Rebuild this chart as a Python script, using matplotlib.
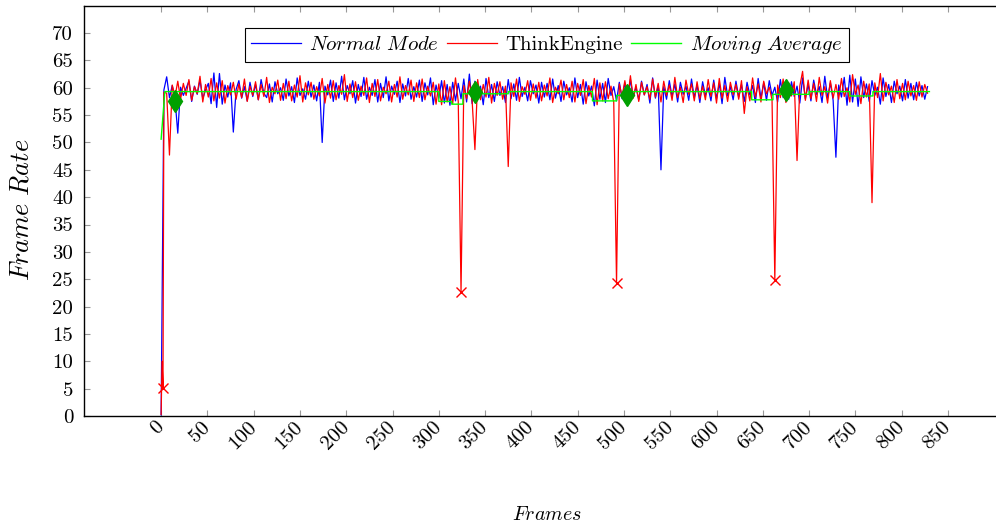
import numpy as np
import matplotlib
matplotlib.use("Agg")
import matplotlib.pyplot as plt

plt.rcParams["font.family"] = "serif"
plt.rcParams["font.serif"] = ["cmr10", "DejaVu Serif"]
plt.rcParams["mathtext.fontset"] = "cm"
plt.rcParams["axes.formatter.use_mathtext"] = True

# --- data --------------------------------------------------------------
# start-up frames (before the regular sampling every 3 frames)
normal_start_frames = [0, 3]
normal_start = [0.2, 59.6]
think_start_frames = [0, 1, 2, 3]
think_start = [0.3, 10.0, 5.1, 59.2]

# frame rate sampled every 3rd frame, starting at frame 6
first_frame = 6
frame_step = 3

normal_mode = [
    62.0, 58.2, 60.4, 57.9, 51.7, 60.1, 58.6, 59.9, 61.2, 57.5, 60.3, 58.8, 61.4, 58.0, 59.6,
    60.8, 57.1, 62.7, 56.4, 62.6, 57.0, 60.5, 58.3, 60.9, 51.9, 59.7, 61.3, 58.1, 60.2, 57.6,
    61.0, 58.4, 60.6, 57.8, 61.5, 59.0, 58.2, 60.7, 57.4, 61.1, 58.9, 60.0, 57.7, 61.6, 58.5,
    60.2, 57.3, 61.8, 58.6, 59.8, 57.9, 61.2, 58.3, 60.5, 57.6, 61.0, 50.0, 60.3, 58.7, 61.4,
    57.5, 60.9, 58.1, 62.1, 57.8, 60.4, 58.9, 61.3, 57.2, 60.6, 58.4, 61.9, 57.9, 60.1, 58.6,
    61.5, 57.4, 60.8, 58.2, 62.0, 57.6, 60.3, 58.8, 61.2, 57.3, 60.7, 58.5, 61.7, 57.9, 60.2,
    58.3, 61.4, 57.5, 60.9, 58.7, 61.8, 56.9, 60.5, 58.1, 61.3, 57.2, 60.6, 56.8, 61.0, 57.6,
    60.8, 58.0, 61.6, 57.4, 62.5, 57.1, 61.2, 58.5, 60.3, 56.9, 61.7, 58.2, 60.6, 57.5, 61.1,
    58.6, 60.2, 57.3, 61.5, 58.0, 60.7, 57.7, 61.9, 58.4, 60.1, 57.6, 61.3, 58.9, 60.5, 57.2,
    61.0, 58.3, 60.8, 57.8, 61.6, 58.1, 60.4, 57.5, 61.2, 58.7, 60.0, 57.4, 61.8, 58.2, 60.6,
    57.0, 61.1, 58.5, 60.3, 56.7, 61.4, 57.9, 60.8, 57.3, 61.7, 58.6, 60.2, 57.6, 61.0, 58.0,
    60.9, 57.5, 61.5, 58.3, 60.1, 57.8, 61.2, 58.7, 60.6, 57.2, 61.8, 58.1, 60.4, 45.0, 60.2,
    57.9, 61.3, 58.4, 60.7, 57.4, 61.0, 58.8, 60.3, 57.7, 61.6, 58.2, 60.5, 57.3, 61.1, 58.6,
    60.0, 57.6, 61.4, 58.0, 60.8, 57.1, 61.9, 58.5, 60.2, 57.8, 61.2, 58.3, 60.6, 57.5, 61.0,
    58.7, 60.4, 57.3, 61.7, 58.1, 60.9, 57.7, 61.3, 58.6, 60.1, 57.4, 61.5, 58.2, 60.7, 57.9,
    61.1, 58.4, 60.3, 57.2, 61.8, 58.0, 60.6, 57.6, 61.4, 58.8, 60.2, 57.3, 62.1, 58.1, 60.9,
    57.7, 47.3, 60.5, 58.3, 61.9, 56.8, 62.3, 57.4, 61.6, 56.6, 62.0, 58.2, 60.7, 57.5, 61.3,
    58.6, 60.1, 57.0, 61.8, 58.4, 60.6, 57.3, 61.2, 58.9, 60.3, 57.6, 61.5, 58.1, 60.8, 57.8,
    61.0, 58.5, 60.4, 57.9, 60.2,
]

think_engine = [
    59.0, 47.7, 60.5, 58.4, 61.2, 57.9, 60.8, 58.6, 61.5, 57.7, 60.2, 58.9, 62.1, 57.4, 60.6,
    58.3, 61.7, 57.6, 60.9, 58.1, 61.3, 57.2, 60.4, 58.7, 61.0, 57.9, 60.7, 58.2, 61.6, 57.5,
    60.3, 58.6, 61.1, 57.8, 60.6, 58.4, 61.9, 57.3, 60.1, 58.9, 61.4, 57.7, 60.8, 58.0, 61.2,
    57.6, 60.5, 58.3, 62.2, 57.4, 60.9, 58.7, 61.0, 57.9, 60.2, 58.5, 61.7, 57.2, 60.6, 58.1,
    61.3, 57.8, 60.4, 58.8, 62.4, 57.5, 60.7, 58.2, 61.1, 57.7, 60.3, 58.6, 61.8, 57.3, 60.8,
    58.4, 61.5, 57.6, 60.1, 58.9, 61.2, 57.4, 60.6, 58.3, 62.0, 57.9, 60.4, 58.7, 61.4, 57.5,
    60.9, 58.2, 61.6, 57.8, 60.3, 58.5, 61.0, 57.0, 60.7, 56.9, 61.3, 57.4, 60.2, 57.1, 61.8,
    57.5, 22.7, 60.4, 58.0, 61.2, 57.6, 48.7, 61.5, 57.8, 60.6, 58.3, 61.9, 57.2, 60.8, 58.6,
    61.1, 57.9, 60.3, 45.6, 60.9, 58.4, 61.6, 57.5, 60.2, 58.8, 61.3, 57.7, 60.7, 58.1, 61.0,
    57.6, 60.5, 58.5, 61.8, 57.3, 60.1, 58.9, 61.4, 57.8, 60.6, 58.2, 61.2, 57.4, 60.8, 58.6,
    61.5, 57.1, 60.4, 58.3, 61.7, 56.9, 60.9, 57.6, 61.1, 58.0, 60.3, 57.3, 24.3, 60.7, 58.4,
    61.3, 57.8, 62.2, 58.1, 60.6, 57.5, 61.0, 58.7, 60.2, 57.9, 61.6, 58.3, 60.8, 57.4, 61.2,
    58.6, 60.5, 57.7, 61.9, 58.2, 60.1, 57.3, 61.4, 58.8, 60.7, 57.6, 61.1, 58.0, 60.3, 57.8,
    61.5, 58.4, 60.9, 57.2, 61.7, 58.1, 60.4, 57.5, 61.0, 58.7, 60.6, 57.9, 61.3, 55.3, 60.2,
    57.6, 61.8, 58.3, 60.7, 57.4, 61.2, 58.9, 60.1, 57.8, 24.9, 60.5, 58.2, 61.6, 57.3, 60.9,
    58.5, 61.1, 46.7, 60.3, 63.0, 57.7, 61.4, 58.0, 60.8, 57.5, 61.9, 58.6, 60.2, 57.2, 61.3,
    58.1, 60.6, 57.9, 61.7, 58.4, 60.0, 57.4, 62.4, 58.8, 60.5, 57.1, 61.2, 58.3, 60.7, 39.0,
    60.9, 58.2, 62.6, 57.6, 61.0, 58.7, 60.3, 57.3, 61.5, 58.0, 60.8, 57.8, 61.2, 58.5, 60.4,
    57.7, 61.1, 58.3, 60.6, 59.0,
]

# moving average (step shaped)
ma_frames = [0, 4, 300, 300, 314, 314, 326, 326, 375, 375, 466, 466, 492, 492,
             500, 500, 638, 638, 661, 661, 700, 700, 744, 744, 769, 769, 830]
ma_values = [50.6, 59.3, 59.3, 57.5, 57.5, 57.0, 57.0, 58.9, 58.9, 59.3, 59.3, 57.6, 57.6, 58.6,
             58.6, 59.3, 59.3, 57.8, 57.8, 58.8, 58.8, 59.3, 59.3, 58.5, 58.5, 59.3, 59.3]

# marked points
drop_frames = [2, 324, 492, 663]
drop_values = [5.1, 22.7, 24.3, 24.9]
recover_frames = [15, 339, 503, 675]
recover_values = [57.6, 59.2, 58.7, 59.6]

x_ticks = list(range(0, 851, 50))
y_ticks = list(range(0, 71, 5))

# --- assemble series ---------------------------------------------------
normal_x = normal_start_frames + [first_frame + frame_step * i for i in range(len(normal_mode))]
normal_y = normal_start + normal_mode
think_x = think_start_frames + [first_frame + frame_step * i for i in range(len(think_engine))]
think_y = think_start + think_engine

fig = plt.figure(figsize=(9.96, 5.25), dpi=100)
ax = fig.add_axes([84.3 / 996, 1 - 416 / 525, (1009 - 84.3) / 996, (416 - 5.7) / 525])

ax.plot(normal_x, normal_y, color="blue", lw=0.9, label=r"$Normal\ Mode$")
ax.plot(think_x, think_y, color="red", lw=0.9, label="ThinkEngine")
ax.plot(ma_frames, ma_values, color="#00ff00", lw=1.0, label=r"$Moving\ Average$")
ax.plot(drop_frames, drop_values, ls="none", marker="x", color="red", ms=7.5, mew=1.0)
ax.plot(recover_frames, recover_values, ls="none", marker="d", color="#00a000", ms=11.5)

ax.set_xlim(-83, 916)
ax.set_ylim(0, 75)
ax.set_xticks(x_ticks)
ax.set_xticklabels([str(t) for t in x_ticks], rotation=45, ha="right", va="center",
                   rotation_mode="anchor")
ax.set_yticks(y_ticks)
ax.set_yticklabels([str(t) for t in y_ticks])
ax.tick_params(direction="in", length=4, color="0.6", top=True, right=True, labelsize=15)
ax.tick_params(axis="x", pad=6)
ax.tick_params(axis="y", pad=8)
for sp in ax.spines.values():
    sp.set_linewidth(1.0)

ax.set_ylabel(r"$Frame\ Rate$", fontsize=19)
ax.yaxis.set_label_coords(-0.0544, 0.502)
ax.set_xlabel(r"$Frames$", fontsize=14.5)
ax.xaxis.set_label_coords(0.5, -0.2200)

leg = ax.legend(loc="upper center", bbox_to_anchor=(0.5, 0.946), ncol=3, fontsize=15,
                fancybox=False, edgecolor="black", framealpha=1, handlelength=2.4,
                handletextpad=0.4, columnspacing=0.4, borderpad=0.3, borderaxespad=0)
leg.get_frame().set_linewidth(0.8)

fig.savefig("out.png", dpi=100)
